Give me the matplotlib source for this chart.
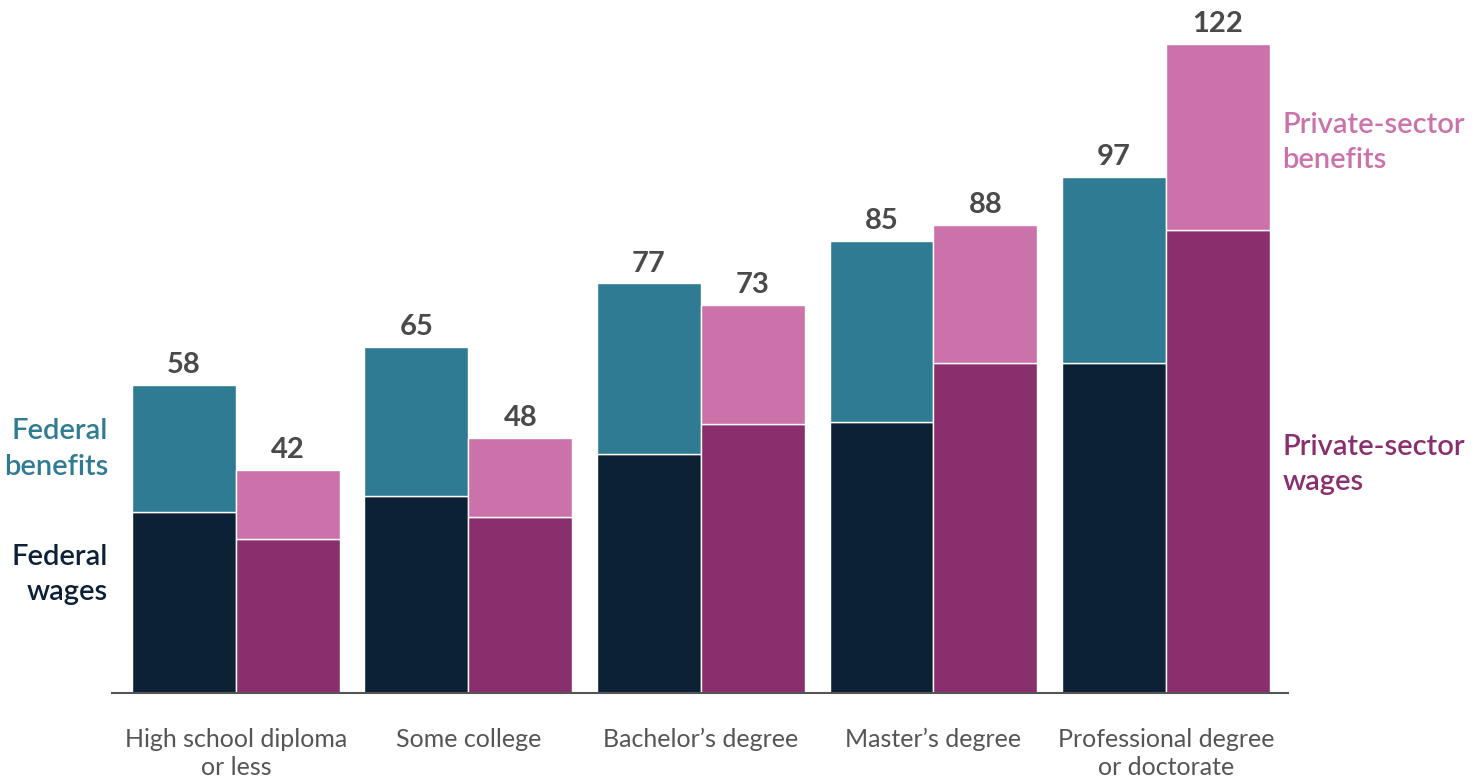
import numpy as np
import matplotlib.pyplot as plt

plt.rcParams['font.family'] = ['Lato', 'DejaVu Sans']

categories = ['High school diploma\nor less', 'Some college', 'Bachelor\u2019s degree',
              'Master\u2019s degree', 'Professional degree\nor doctorate']
fed_total = [58, 65, 77, 85, 97]
fed_wages = [34, 37, 45, 51, 62]
priv_total = [42, 48, 73, 88, 122]
priv_wages = [29, 33, 50.5, 62, 87]

fed_benefits = [t - w for t, w in zip(fed_total, fed_wages)]
priv_benefits = [t - w for t, w in zip(priv_total, priv_wages)]

c_fw = '#0c2135'
c_fb = '#2f7b93'
c_pw = '#8a2f6e'
c_pb = '#cc72ab'

fig = plt.figure(figsize=(14.78, 7.84), dpi=100)
ax = fig.add_axes([112 / 1478, 91 / 784, 1176 / 1478, 693 / 784])

x = np.arange(len(categories))
w = 0.447
# federal on the left of each group, private on the right
ax.bar(x - w, fed_wages, w, align='edge', color=c_fw, edgecolor='white', linewidth=1)
ax.bar(x - w, fed_benefits, w, bottom=fed_wages, align='edge', color=c_fb, edgecolor='white', linewidth=1)
ax.bar(x, priv_wages, w, align='edge', color=c_pw, edgecolor='white', linewidth=1)
ax.bar(x, priv_benefits, w, bottom=priv_wages, align='edge', color=c_pb, edgecolor='white', linewidth=1)

for i in range(len(categories)):
    ax.text(x[i] - w / 2, fed_total[i] + 1.3, str(fed_total[i]), ha='center', va='bottom',
            fontsize=21, fontweight='bold', color='#4a4a4a')
    ax.text(x[i] + w / 2, priv_total[i] + 1.3, str(priv_total[i]), ha='center', va='bottom',
            fontsize=21, fontweight='bold', color='#4a4a4a')

ax.set_xlim(-0.533, 4.525)
ax.set_ylim(0, 130.3)
ax.set_xticks(x)
ax.set_xticklabels(categories, fontsize=18, color='#555555', linespacing=1.3)
ax.tick_params(axis='x', length=0, pad=25)
ax.set_yticks([])
for s in ['top', 'right', 'left']:
    ax.spines[s].set_visible(False)
ax.spines['bottom'].set_color('#555555')
ax.spines['bottom'].set_linewidth(1.5)

lab = dict(fontsize=21, fontweight='semibold', linespacing=1.45)
ax.text(-0.55, 45.9, 'Federal\nbenefits', ha='right', va='center', color=c_fb, **lab)
ax.text(-0.55, 22.3, 'Federal\nwages', ha='right', va='center', color=c_fw, **lab)
ax.text(4.5, 103.5, 'Private-sector\nbenefits', ha='left', va='center', color=c_pb, **lab)
ax.text(4.5, 43, 'Private-sector\nwages', ha='left', va='center', color=c_pw, **lab)

fig.savefig('out.png', dpi=100)
